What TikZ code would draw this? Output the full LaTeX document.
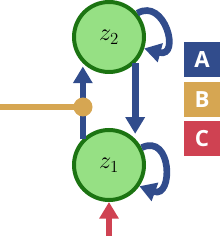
\documentclass[tikz,border=0pt]{standalone}
\usepackage{fontspec}
\newfontfamily\legendfont{Open Sans}
\usepackage{xcolor}
\usepackage{tikz}
\usetikzlibrary{arrows.meta,positioning,calc}
\definecolor{flowblue}{RGB}{49,76,140}
\definecolor{flowgold}{RGB}{214,166,82}
\definecolor{flowred}{RGB}{207,66,82}
\definecolor{statefill}{RGB}{150,224,132}
\definecolor{stateline}{RGB}{28,116,18}
\tikzset{
  statenode/.style={circle, draw=stateline, fill=statefill, line width=0.12cm,
    minimum size=2.1cm, inner sep=0pt, font=\fontsize{21}{24}\selectfont},
  flow/.style={line width=0.2cm, draw=flowblue,
    -{Triangle[width=0.56cm, length=0.5cm]}},
  legendbox/.style={rectangle, minimum width=1.08cm, minimum height=1.05cm,
    inner sep=0pt, text=white, font=\legendfont\bfseries\fontsize{19}{22}\selectfont}
}

\begin{document}
\begin{tikzpicture}[x=0.03cm, y=0.03cm]
    \useasboundingbox (0,0) rectangle (220,236);

    % states
    \node[statenode] (z2) at (109,199) {$z_2$};
    \node[statenode] (z1) at (109,71) {$z_1$};

    % inputs
    \coordinate (junc) at (83,129);
    \coordinate (gin) at (0,129);
    \coordinate (rin) at (109,0);

    % transitions
    \draw[flow, shorten >=0.1cm] (z1.135) -- (z2.225);
    \draw[flow, shorten >=0.15cm] (z2.-45) -- (z1.45);
    \draw[flowgold, line width=0.18cm] (gin) -- (junc);
    \node[circle, fill=flowgold, minimum size=0.57cm, inner sep=0pt] (jdot) at (junc) {};
    \draw[flow, draw=flowred, shorten >=0pt] (rin) -- (z1.south);

    % self loops
    \draw[flow] (z2.40) .. controls +(30:32) and +(-15:38) .. (z2.-18);
    \draw[flow] (z1.28) .. controls +(25:34) and +(-20:36) .. (z1.-35);

    % legend
    \node[legendbox, fill=flowblue] (la) at (202,176.5) {A};
    \node[legendbox, fill=flowgold] (lb) at (202,136.5) {B};
    \node[legendbox, fill=flowred] (lc) at (202,97.5) {C};
\end{tikzpicture}
\end{document}
